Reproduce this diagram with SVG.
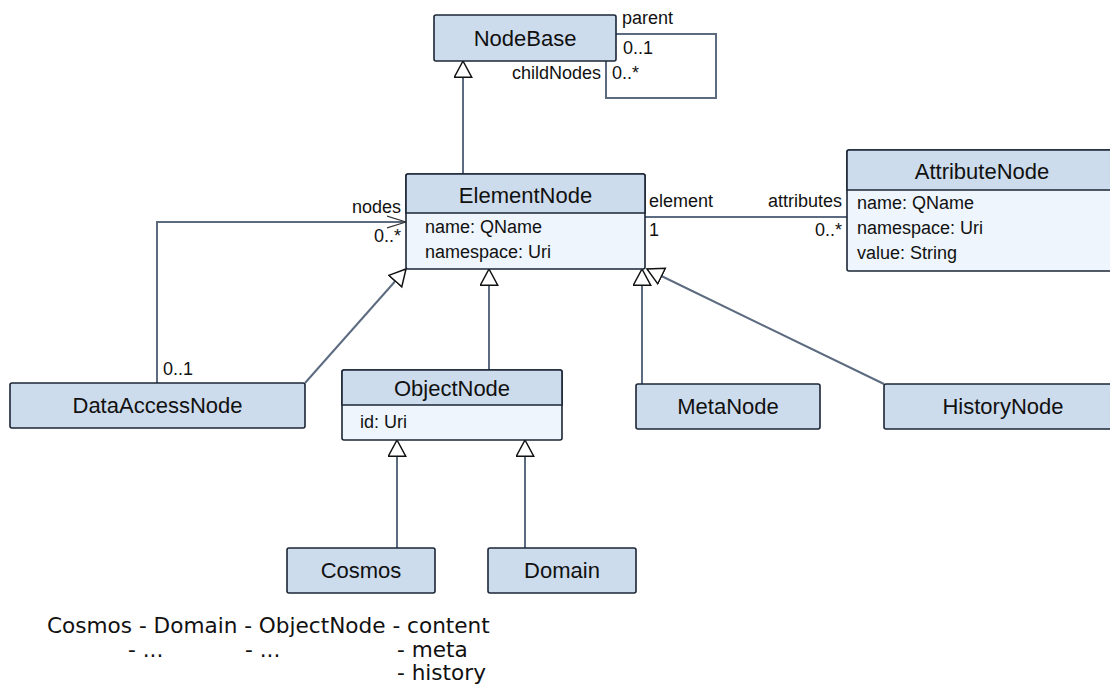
<svg xmlns="http://www.w3.org/2000/svg" width="1110" height="686" viewBox="0 0 1110 686">
<style>
.hdr{fill:#cddcec;stroke:#1b2635;stroke-width:1.6}
.cmp{fill:#eef5fd;stroke:#1b2635;stroke-width:1.6}
.name{font-family:"Liberation Sans",Arial,sans-serif;font-size:22px;fill:#111;text-anchor:middle}
.attr{font-family:"Liberation Sans",Arial,sans-serif;font-size:18px;fill:#111}
.lbl{font-family:"Liberation Sans",Arial,sans-serif;font-size:18px;fill:#111}
.r{text-anchor:end}
.con{fill:none;stroke:#5c6b80;stroke-width:2}
.note{font-family:"DejaVu Sans",Verdana,sans-serif;font-size:21.6px;fill:#111}
</style>
<defs>
<marker id="gen" markerUnits="userSpaceOnUse" markerWidth="20" markerHeight="20" viewBox="0 0 20 20" refX="17" refY="9.5" orient="auto">
<path d="M0.8,0.8 L17,9.5 L0.8,18.2 Z" fill="#fff" stroke="#111" stroke-width="1.5"/>
</marker>
<marker id="open" markerUnits="userSpaceOnUse" markerWidth="20" markerHeight="14" viewBox="0 0 20 14" refX="19" refY="7" orient="auto">
<path d="M0,1 L19,7 L0,13" fill="none" stroke="#333" stroke-width="1.3"/>
</marker>
</defs>

<g id="connectors">
<polyline class="con" points="616,34 716,34 716,98 606,98 606,61"/>
<path class="con" d="M463,174 L463,61" marker-end="url(#gen)"/>
<path class="con" d="M645,217 L847,217"/>
<path class="con" d="M157,383 L157,222 L406,222" marker-end="url(#open)"/>
<path class="con" d="M305,383 L406,269" marker-end="url(#gen)"/>
<path class="con" d="M489,370 L489,269" marker-end="url(#gen)"/>
<path class="con" d="M642,384 L642,269" marker-end="url(#gen)"/>
<path class="con" d="M884,384 L647,269" marker-end="url(#gen)"/>
<path class="con" d="M397,548 L397,440" marker-end="url(#gen)"/>
<path class="con" d="M525,548 L525,440" marker-end="url(#gen)"/>
<text class="lbl" x="622" y="24">parent</text>
<text class="lbl" x="623" y="54">0..1</text>
<text class="lbl r" x="601" y="79">childNodes</text>
<text class="lbl" x="612" y="79">0..*</text>
<text class="lbl r" x="401" y="213">nodes</text>
<text class="lbl r" x="401" y="242">0..*</text>
<text class="lbl" x="649" y="207">element</text>
<text class="lbl r" x="842" y="207">attributes</text>
<text class="lbl" x="649" y="236">1</text>
<text class="lbl r" x="842" y="236">0..*</text>
<text class="lbl" x="163" y="375">0..1</text>
</g>

<g id="NodeBase">
<rect class="hdr" x="434" y="15" width="182" height="46" rx="2"/>
<text class="name" x="525" y="46">NodeBase</text>
</g>

<g id="ElementNode">
<rect class="cmp" x="406" y="174" width="239" height="95" rx="2"/>
<path class="hdr" d="M408,174 H643 Q645,174 645,176 V213 H406 V176 Q406,174 408,174 Z"/>
<text class="name" x="525.5" y="203">ElementNode</text>
<text class="attr" x="425" y="233">name: QName</text>
<text class="attr" x="425" y="258">namespace: Uri</text>
</g>

<g id="AttributeNode">
<rect class="cmp" x="847" y="150" width="270" height="121" rx="2"/>
<path class="hdr" d="M849,150 H1117 V190 H847 V152 Q847,150 849,150 Z"/>
<text class="name" x="982" y="179">AttributeNode</text>
<text class="attr" x="857" y="209">name: QName</text>
<text class="attr" x="857" y="234">namespace: Uri</text>
<text class="attr" x="857" y="259">value: String</text>
</g>

<g id="DataAccessNode">
<rect class="hdr" x="10" y="383" width="295" height="45" rx="2"/>
<text class="name" x="157.5" y="413">DataAccessNode</text>
</g>

<g id="ObjectNode">
<rect class="cmp" x="342" y="370" width="220" height="70" rx="2"/>
<path class="hdr" d="M344,370 H560 Q562,370 562,372 V405 H342 V372 Q342,370 344,370 Z"/>
<text class="name" x="452" y="396">ObjectNode</text>
<text class="attr" x="360" y="428">id: Uri</text>
</g>

<g id="MetaNode">
<rect class="hdr" x="636" y="384" width="184" height="45" rx="2"/>
<text class="name" x="728" y="414">MetaNode</text>
</g>

<g id="HistoryNode">
<rect class="hdr" x="884" y="384" width="238" height="45" rx="2"/>
<text class="name" x="1003" y="414">HistoryNode</text>
</g>

<g id="Cosmos">
<rect class="hdr" x="287" y="548" width="148" height="45" rx="2"/>
<text class="name" x="361" y="578">Cosmos</text>
</g>

<g id="Domain">
<rect class="hdr" x="488" y="548" width="148" height="45" rx="2"/>
<text class="name" x="562" y="578">Domain</text>
</g>

<g id="note">
<text class="note" x="47" y="633">Cosmos - Domain - ObjectNode - content</text>
<text class="note" x="128" y="657">- ...</text>
<text class="note" x="245" y="657">- ...</text>
<text class="note" x="397" y="657">- meta</text>
<text class="note" x="397" y="680">- history</text>
</g>
</svg>
